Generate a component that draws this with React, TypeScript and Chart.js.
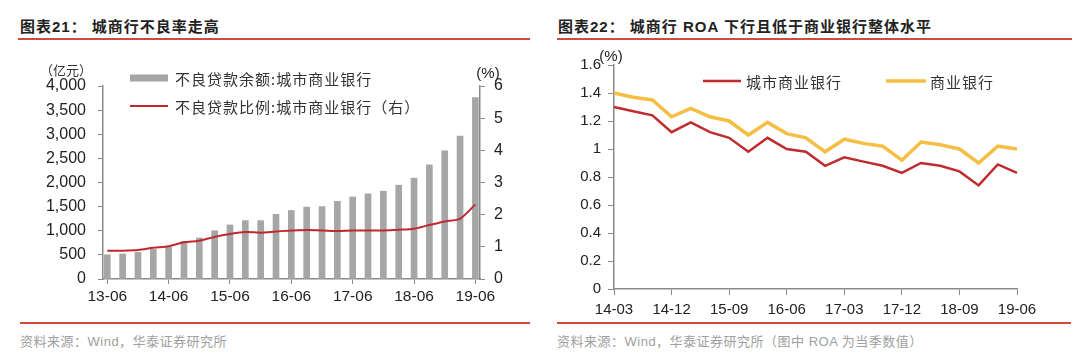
import React, { useEffect, useRef } from 'react';
import { Chart, registerables } from 'chart.js';

Chart.register(...registerables);

// ---------- data: left chart ----------
const catsL = ['13-06','13-09','13-12','14-03','14-06','14-09','14-12','15-03','15-06','15-09','15-12','16-03','16-06','16-09','16-12','17-03','17-06','17-09','17-12','18-03','18-06','18-09','18-12','19-03','19-06'];
const nplBalance = [500,520,550,615,660,780,850,1000,1120,1210,1210,1340,1420,1490,1500,1610,1700,1765,1820,1945,2090,2365,2655,2960,3760];
const nplRatio = [0.88,0.88,0.90,0.97,1.02,1.14,1.19,1.31,1.40,1.46,1.44,1.48,1.51,1.52,1.51,1.49,1.51,1.51,1.51,1.53,1.56,1.68,1.79,1.88,2.32];
const seriesL = ['不良贷款余额:城市商业银行', '不良贷款比例:城市商业银行（右）'];

// ---------- data: right chart ----------
const catsR = ['14-03','14-06','14-09','14-12','15-03','15-06','15-09','15-12','16-03','16-06','16-09','16-12','17-03','17-06','17-09','17-12','18-03','18-06','18-09','18-12','19-03','19-06'];
const roaCity = [1.30,1.27,1.24,1.12,1.19,1.12,1.08,0.98,1.08,1.00,0.98,0.88,0.94,0.91,0.88,0.83,0.90,0.88,0.84,0.74,0.89,0.83];
const roaAll = [1.40,1.37,1.35,1.23,1.29,1.23,1.20,1.10,1.19,1.11,1.08,0.98,1.07,1.04,1.02,0.92,1.05,1.03,1.00,0.90,1.02,1.00];
const seriesR = ['城市商业银行', '商业银行'];

const FONT = '"Liberation Sans", Arial, "Noto Sans CJK SC", sans-serif';
const CJK = '"Noto Sans CJK SC", sans-serif';
const AXIS = '#8a8a8a';
const TXT = '#222';

Chart.defaults.font.family = FONT;

const annotPlugin = {
  id: 'annot',
  afterDraw(chart: any, _args: any, opts: any) {
    const ctx = chart.ctx;
    ctx.save();
    ctx.textBaseline = 'middle';
    (opts.texts || []).forEach((t: any) => {
      ctx.font = t.font;
      ctx.fillStyle = t.color || TXT;
      ctx.textAlign = t.align || 'left';
      ctx.fillText(t.text, t.x, t.y);
    });
    (opts.legend || []).forEach((l: any) => {
      const ds = chart.data.datasets[l.ds];
      if (l.kind === 'bar') {
        ctx.fillStyle = ds.backgroundColor;
        ctx.fillRect(l.x1, l.y - l.h / 2, l.x2 - l.x1, l.h);
      } else {
        ctx.strokeStyle = ds.borderColor;
        ctx.lineWidth = l.w;
        ctx.beginPath();
        ctx.moveTo(l.x1, l.y);
        ctx.lineTo(l.x2, l.y);
        ctx.stroke();
      }
      ctx.font = '15px ' + CJK;
      try { (ctx as any).letterSpacing = '1px'; } catch (e) {}
      ctx.fillStyle = '#333';
      ctx.textAlign = 'left';
      ctx.fillText(ds.label, l.tx, l.y + 1);
      try { (ctx as any).letterSpacing = '0px'; } catch (e) {}
    });
    ctx.restore();
  },
};

function LeftChart() {
  const ref = useRef<HTMLCanvasElement>(null);
  useEffect(() => {
    const chart = new Chart(ref.current!, {
      type: 'bar',
      data: {
        datasets: [
          {
            type: 'bar',
            label: seriesL[0],
            data: nplBalance.map((v, i) => ({ x: i, y: v })),
            backgroundColor: '#a6a6a6',
            barThickness: 6,
            yAxisID: 'y',
            order: 2,
          } as any,
          {
            type: 'line',
            label: seriesL[1],
            data: nplRatio.map((v, i) => ({ x: i, y: v })),
            borderColor: '#c0282d',
            borderWidth: 2,
            pointRadius: 0,
            tension: 0.3,
            yAxisID: 'y1',
            order: 1,
          } as any,
        ],
      },
      options: {
        responsive: false,
        animation: false,
        layout: { padding: { top: 41, left: 0, right: 0, bottom: 0 } },
        plugins: {
          legend: { display: false },
          tooltip: { enabled: false },
          annot: {
            texts: [
              { text: '（亿元）', x: 40, y: 25, font: '13px ' + CJK, color: '#333', align: 'left' },
              { text: '(%)', x: 488, y: 29, font: '15px ' + FONT, color: TXT, align: 'center' },
            ],
            legend: [
              { ds: 0, kind: 'bar', x1: 130, x2: 168, y: 33, h: 7, tx: 175 },
              { ds: 1, kind: 'line', x1: 130, x2: 168, y: 61, w: 2, tx: 175 },
            ],
          },
        } as any,
        scales: {
          x: {
            type: 'linear',
            offset: false,
            min: -0.28,
            max: 24.3,
            afterBuildTicks: (s: any) => {
              s.ticks = catsL.map((_, i) => i).filter((i) => i % 4 === 0).map((v) => ({ value: v }));
            },
            ticks: {
              callback: (v: any) => catsL[v] ?? '',
              font: { size: 15.5 },
              color: TXT,
              padding: 3,
              maxRotation: 0,
              autoSkip: false,
            },
            grid: { drawOnChartArea: false, offset: false, tickLength: 5, color: AXIS },
            border: { color: AXIS, width: 1.5 },
            afterFit: (s: any) => { s.height = 36; },
          } as any,
          y: {
            position: 'left',
            min: 0,
            max: 4000,
            ticks: {
              stepSize: 500,
              callback: (v: any) => Number(v).toLocaleString('en-US'),
              font: { size: 16 },
              color: TXT,
              padding: 12,
            },
            grid: { drawOnChartArea: false, tickLength: 5, color: AXIS },
            border: { color: AXIS, width: 1.5 },
            afterFit: (s: any) => { s.width = 103; },
          } as any,
          y1: {
            position: 'right',
            min: 0,
            max: 6,
            ticks: { stepSize: 1, font: { size: 16 }, color: TXT, padding: 9 },
            grid: { drawOnChartArea: false, tickLength: 5, color: AXIS },
            border: { color: AXIS, width: 1.5 },
            afterFit: (s: any) => { s.width = 60; },
          } as any,
        },
      },
      plugins: [annotPlugin as any],
    });
    return () => chart.destroy();
  }, []);
  return <canvas ref={ref} width={540} height={270} style={{ position: 'absolute', left: 0, top: 45 }} />;
}

function RightChart() {
  const ref = useRef<HTMLCanvasElement>(null);
  useEffect(() => {
    const chart = new Chart(ref.current!, {
      type: 'line',
      data: {
        labels: catsR,
        datasets: [
          { label: seriesR[0], data: roaCity, borderColor: '#bf2b2f', borderWidth: 2.5, pointRadius: 0, tension: 0 },
          { label: seriesR[1], data: roaAll, borderColor: '#f5bf45', borderWidth: 3.5, pointRadius: 0, tension: 0 },
        ],
      },
      options: {
        responsive: false,
        animation: false,
        layout: { padding: { top: 20, left: 0, right: 63, bottom: 0 } },
        plugins: {
          legend: { display: false },
          tooltip: { enabled: false },
          annot: {
            texts: [
              { text: '(%)', x: 71, y: 12, font: '15px ' + FONT, color: TXT, align: 'center' },
            ],
            legend: [
              { ds: 0, kind: 'line', x1: 163, x2: 201, y: 36, w: 2.5, tx: 206 },
              { ds: 1, kind: 'line', x1: 346, x2: 386, y: 36, w: 3.5, tx: 390 },
            ],
          },
        } as any,
        scales: {
          x: {
            offset: false,
            afterBuildTicks: (s: any) => {
              s.ticks = s.ticks.filter((t: any) => t.value % 3 === 0);
            },
            ticks: { font: { size: 15 }, color: TXT, padding: 6, maxRotation: 0, autoSkip: false },
            grid: { drawOnChartArea: false, tickLength: 6, color: AXIS },
            border: { color: AXIS, width: 1.5 },
            afterFit: (s: any) => { s.height = 31; },
          } as any,
          y: {
            min: 0,
            max: 1.6,
            ticks: {
              stepSize: 0.2,
              callback: (v: any) => String(Number(Number(v).toFixed(1))),
              font: { size: 15 },
              color: TXT,
              padding: 7,
            },
            grid: { drawOnChartArea: false, tickLength: 6, color: AXIS },
            border: { color: AXIS, width: 1.5 },
            afterFit: (s: any) => { s.width = 74; },
          } as any,
        },
      },
      plugins: [annotPlugin as any],
    });
    return () => chart.destroy();
  }, []);
  return <canvas ref={ref} width={540} height={275} style={{ position: 'absolute', left: 0, top: 45 }} />;
}

const titleStyle: React.CSSProperties = {
  position: 'absolute',
  top: 17,
  lineHeight: '20px',
  fontFamily: FONT,
  fontWeight: 'bold',
  fontSize: 15,
  letterSpacing: 1,
  color: '#222',
  whiteSpace: 'nowrap',
};
const sourceStyle: React.CSSProperties = {
  position: 'absolute',
  top: 333,
  lineHeight: '18px',
  fontFamily: FONT,
  fontSize: 13,
  letterSpacing: 0.5,
  color: '#a0a0a0',
  whiteSpace: 'nowrap',
};
const redLine = '#d04a3f';

export default function App() {
  return (
    <div style={{ position: 'fixed', left: 0, top: 0, width: 1080, height: 357, background: '#fff', overflow: 'hidden' }}>
      {/* left panel */}
      <div style={{ position: 'absolute', left: 0, top: 0, width: 540, height: 357 }}>
        <div style={{ ...titleStyle, left: 20 }}>图表21：&nbsp;城商行不良率走高</div>
        <div style={{ position: 'absolute', left: 18, top: 38, width: 512, height: 2, background: redLine }} />
        <LeftChart />
        <div style={{ position: 'absolute', left: 20, top: 322, width: 510, height: 2, background: redLine }} />
        <div style={{ ...sourceStyle, left: 20 }}>资料来源：Wind，华泰证券研究所</div>
      </div>
      {/* right panel */}
      <div style={{ position: 'absolute', left: 540, top: 0, width: 540, height: 357 }}>
        <div style={{ ...titleStyle, left: 18 }}>图表22：&nbsp;城商行 ROA 下行且低于商业银行整体水平</div>
        <div style={{ position: 'absolute', left: 17, top: 38, width: 515, height: 2, background: redLine }} />
        <RightChart />
        <div style={{ position: 'absolute', left: 17, top: 322, width: 514, height: 2, background: redLine }} />
        <div style={{ ...sourceStyle, left: 17 }}>资料来源：Wind，华泰证券研究所（图中 ROA 为当季数值）</div>
      </div>
    </div>
  );
}
